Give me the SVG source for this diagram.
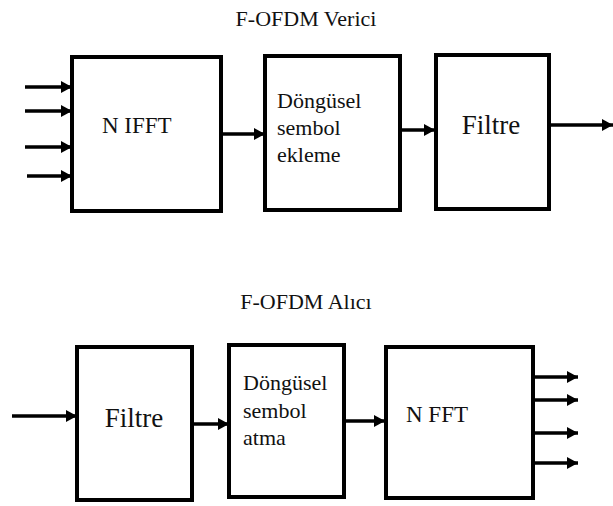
<svg xmlns="http://www.w3.org/2000/svg" width="613" height="506" viewBox="0 0 613 506">
<style>
.box{fill:#fff;stroke:#000;stroke-width:4}
.ln{stroke:#000;stroke-width:3.5;fill:none;marker-end:url(#ah)}
text{font-family:'Liberation Serif',serif;fill:#111}
</style>
<defs>
<marker id="ah" markerUnits="userSpaceOnUse" markerWidth="12" markerHeight="12" refX="11" refY="6" orient="auto">
<path d="M0,0 L11,6 L0,12 z" fill="#000"/>
</marker>
</defs>
<rect width="613" height="506" fill="#fff"/>
<text x="306" y="26" font-size="22" text-anchor="middle" font-family="Liberation Serif, serif">F-OFDM Verici</text>
<text x="306" y="309" font-size="22" text-anchor="middle" font-family="Liberation Serif, serif">F-OFDM Alıcı</text>
<g id="connectors">
<line class="ln" x1="25" y1="87" x2="72" y2="87"/>
<line class="ln" x1="25" y1="111" x2="72" y2="111"/>
<line class="ln" x1="25" y1="147" x2="72" y2="147"/>
<line class="ln" x1="27" y1="176" x2="72" y2="176"/>
<line class="ln" x1="221" y1="134" x2="265" y2="134"/>
<line class="ln" x1="400" y1="130" x2="435" y2="130"/>
<line class="ln" x1="549" y1="125" x2="613" y2="125"/>
<line class="ln" x1="12" y1="416" x2="77" y2="416"/>
<line class="ln" x1="192" y1="424" x2="229" y2="424"/>
<line class="ln" x1="344" y1="421" x2="385" y2="421"/>
<line class="ln" x1="533" y1="377" x2="578" y2="377"/>
<line class="ln" x1="533" y1="400" x2="578" y2="400"/>
<line class="ln" x1="533" y1="433" x2="578" y2="433"/>
<line class="ln" x1="533" y1="463" x2="578" y2="463"/>
</g>
<g id="n-ifft">
<rect class="box" x="72" y="57" width="149" height="154"/>
<text x="102" y="133" font-size="23" font-family="Liberation Serif, serif">N IFFT</text>
</g>
<g id="dongusel-ekleme">
<rect class="box" x="265" y="56" width="135" height="154"/>
<text x="277" y="108" font-size="22" font-family="Liberation Serif, serif">Döngüsel</text>
<text x="277" y="135" font-size="22" font-family="Liberation Serif, serif">sembol</text>
<text x="277" y="162" font-size="22" font-family="Liberation Serif, serif">ekleme</text>
</g>
<g id="filtre-tx">
<rect class="box" x="436" y="55" width="113" height="154"/>
<text x="491" y="134" font-size="27" text-anchor="middle" font-family="Liberation Serif, serif">Filtre</text>
</g>
<g id="filtre-rx">
<rect class="box" x="77" y="347" width="115" height="153"/>
<text x="134" y="427" font-size="27" text-anchor="middle" font-family="Liberation Serif, serif">Filtre</text>
</g>
<g id="dongusel-atma">
<rect class="box" x="229" y="345" width="115" height="152"/>
<text x="243" y="390" font-size="22" font-family="Liberation Serif, serif">Döngüsel</text>
<text x="243" y="418" font-size="22" font-family="Liberation Serif, serif">sembol</text>
<text x="243" y="445" font-size="22" font-family="Liberation Serif, serif">atma</text>
</g>
<g id="n-fft">
<rect class="box" x="386" y="347" width="147" height="151"/>
<text x="406" y="422" font-size="23" font-family="Liberation Serif, serif">N FFT</text>
</g>
</svg>
